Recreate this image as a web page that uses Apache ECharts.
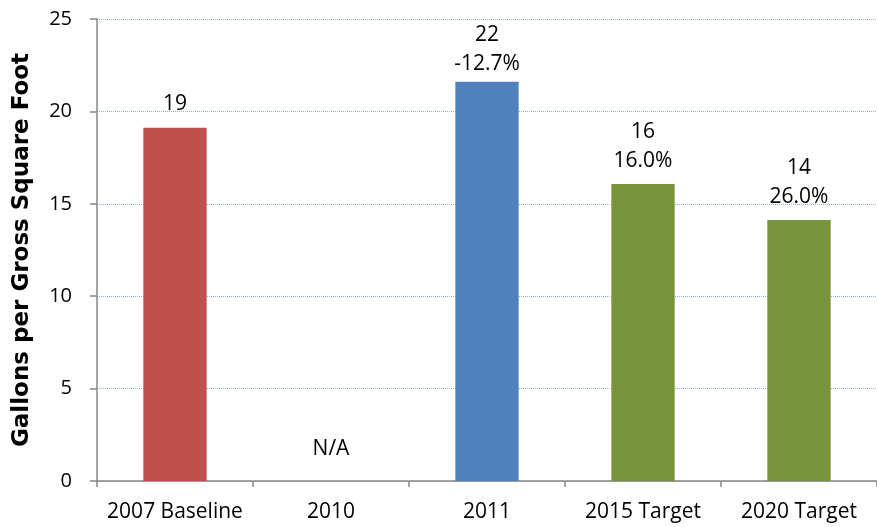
<!DOCTYPE html>
<html>
<head>
<meta charset="utf-8">
<script src="https://cdn.jsdelivr.net/npm/echarts@6/dist/echarts.min.js"></script>
<style>
  html, body { margin: 0; padding: 0; background: #fff; }
  #chart { width: 877px; height: 527px; }
</style>
</head>
<body>
<div id="chart"></div>
<script>
var categories = ['2007 Baseline', '2010', '2011', '2015 Target', '2020 Target'];
var values = [19.12, 0, 21.61, 16.07, 14.12];
var valueLabels = ['19', 'N/A', '22', '16', '14'];
var pctLabels = ['', '', '-12.7%', '16.0%', '26.0%'];
var barColors = ['#C0504D', '#FFFFFF', '#4F81BD', '#77933C', '#77933C'];

var font = '"Open Sans", "Noto Sans", sans-serif';

var myChart = echarts.init(document.getElementById('chart'));

var seriesData = values.map(function (v, i) {
  var item = {
    value: v,
    itemStyle: { color: barColors[i] }
  };
  // N/A sits a bit higher, the 2011 label is squeezed under the top
  if (i === 1) item.label = { distance: 17 };
  if (i === 2) item.label = { distance: 3 };
  return item;
});

var option = {
  animation: false,
  grid: {
    left: 97,
    right: -8,
    top: 19,
    bottom: 46
  },
  xAxis: {
    type: 'category',
    data: categories,
    axisLine: { lineStyle: { color: '#868686', width: 1.5 } },
    axisTick: { show: true, length: 6, lineStyle: { color: '#868686', width: 1.5 } },
    axisLabel: { interval: 0, color: '#000', fontSize: 21, fontFamily: font, margin: 21 }
  },
  yAxis: {
    type: 'value',
    min: 0,
    max: 25,
    interval: 5,
    name: 'Gallons per Gross Square Foot',
    nameLocation: 'middle',
    nameGap: 63,
    nameTextStyle: { color: '#000', fontSize: 23, fontWeight: 'bold', fontFamily: '"DejaVu Sans", sans-serif' },
    axisLine: { show: true, lineStyle: { color: '#868686', width: 1.5 } },
    axisTick: { show: true, length: 7, lineStyle: { color: '#868686', width: 1.5 } },
    axisLabel: { color: '#000', fontSize: 20, fontFamily: font, margin: 25 },
    splitLine: { lineStyle: { color: '#8DB3E2', type: 'dotted', width: 1 } }
  },
  series: [
    {
      type: 'bar',
      barWidth: '40.6%',
      data: seriesData,
      label: {
        show: true,
        position: 'top',
        distance: 9,
        color: '#000',
        fontSize: 21,
        fontFamily: font,
        lineHeight: 29,
        align: 'center',
        formatter: function (p) {
          var i = p.dataIndex;
          return pctLabels[i] ? valueLabels[i] + '\n' + pctLabels[i] : valueLabels[i];
        }
      }
    }
  ]
};

myChart.setOption(option, true);
</script>
</body>
</html>
